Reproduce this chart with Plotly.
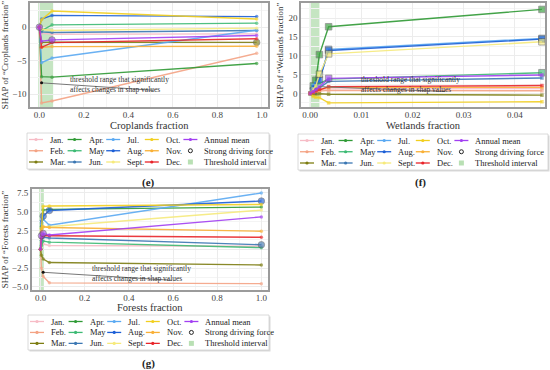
import plotly.graph_objects as go

W, H = 550, 370
FONT = "'Liberation Serif', 'Times New Roman', Times, serif"

months = ["Jan.", "Feb.", "Mar.", "Apr.", "May", "Jun.", "Jul.", "Aug.",
          "Sept.", "Oct.", "Nov.", "Dec.", "Annual mean"]
colors = ["#f7bcc6", "#f4a384", "#7d7d12", "#2f9a35", "#3dba74", "#3b77b3",
          "#5aa9f2", "#1c5fd6", "#f6ea7c", "#f2cf1e", "#f9b036", "#e8252a", "#a23ff2"]

# ---- (e) Croplands
crop_x = [0.0, 0.01, 0.057, 0.977]
crop_shap = [
    [0, -0.9, -1.05, -1.0],
    [0, -11.3, -11.0, -3.9],
    [0, -2.3, -2.25, -2.27],
    [0, -7.4, -7.45, -5.4],
    [0, -0.5, 0.34, 0.6],
    [0, -0.7, -0.8, -0.5],
    [0, -5.3, -4.6, -0.45],
    [0, 1.2, 1.75, 1.57],
    [0, -0.3, -0.5, -0.15],
    [0, 1.1, 2.4, 1.2],
    [0, -3.0, -2.9, -2.85],
    [0, -3.0, -2.3, -1.73],
    [0, -2.1, -1.9, -1.24],
]
crop_strong = {"Annual mean": [0, 2], "Mar.": [3]}
crop_band = [-0.005, 0.062]

# ---- (f) Wetlands
wet_x = [0.0, 0.0006, 0.0011, 0.0018, 0.0036, 0.0453]
wet_shap = [
    [0, 0.3, 0.5, 0.8, 1.2, 1.3],
    [0, 0.2, 0.4, 0.6, 0.8, 0.7],
    [0, -0.3, -0.2, -0.1, -0.2, -0.45],
    [0, 2.0, 3.5, 10.3, 17.7, 22.3],
    [0, 1.5, 2.2, 2.7, 3.8, 5.5],
    [0, 0.7, 1.0, 1.5, 3.2, 4.1],
    [0, 2.2, 2.8, 3.4, 11.7, 14.6],
    [0, 1.8, 2.5, 3.6, 11.4, 14.4],
    [0, 1.2, 2.0, 5.1, 10.5, 13.7],
    [0, -0.8, -1.0, -1.1, -2.5, -2.2],
    [0, 0.3, 0.6, 1.0, 1.6, 1.6],
    [0, 0.3, 0.7, 1.1, 1.8, 2.1],
    [0, 0.5, 1.0, 1.8, 4.0, 4.9],
]
wet_strong = {"Apr.": [1, 2, 3, 4, 5], "Aug.": [3, 4, 5], "Jul.": [4, 5],
              "Sept.": [3, 4, 5], "May": [5], "Annual mean": [4], "Jun.": [1]}
wet_band = [-0.0001, 0.0018]

# ---- (g) Forests
forest_x = [0.0, 0.004, 0.012, 0.04, 1.0]
forest_shap = [
    [0, 0.8, 0.7, 0.5, 0.4],
    [0, -2.5, -3.6, -4.45, -4.56],
    [0, -0.8, -1.3, -1.75, -2.08],
    [0, 3.0, 5.2, 5.3, 5.6],
    [0, 0.5, 1.1, 0.95, 0.22],
    [0, 1.2, 1.6, 1.5, 0.6],
    [0, 3.5, 4.0, 3.2, 7.47],
    [0, 3.8, 4.4, 5.15, 6.4],
    [0, 2.4, 3.0, 3.0, 5.2],
    [0, 2.8, 5.7, 5.75, 5.95],
    [0, 2.5, 3.0, 2.9, 2.4],
    [0, 1.5, 1.8, 1.8, 1.6],
    [0, 1.8, 2.1, 1.9, 4.3],
]
forest_strong = {"Aug.": [2, 3, 4], "Jun.": [4], "Annual mean": [1, 2]}
forest_band = [-0.006, 0.015]

note_text = "threshold range that significantly<br>affects changes in shap values"

panels = [
    dict(ax="", xs=crop_x, ys=crop_shap, strong=crop_strong, band=crop_band,
         sym="circle", xtitle="Croplands fraction",
         ytitle="SHAP of \u201cCroplands fraction\u201d",
         dom_x=[30, 268], dom_y=[3, 107], xr=[-0.042, 1.028], yr=[-11.9, 3.6],
         xdt=0.2, xfmt=".1f", ydt=5, yfmt="d", xtitle_y=125.5,
         note=dict(pt=(0.01, -8.3), end=(0.511, -9.4), tx=(0.13, -8.5), dot=True),
         label="(e)", label_px=(148, 182), leg_px=(27, 133, 269, 169)),
    dict(ax="2", xs=wet_x, ys=wet_shap, strong=wet_strong, band=wet_band,
         sym="square", xtitle="Wetlands fraction",
         ytitle="SHAP of \u201cWetlands fraction\u201d",
         dom_x=[301, 545], dom_y=[3, 107], xr=[-0.0018, 0.0459], yr=[-3.6, 24.0],
         xdt=0.01, xfmt=".2f", ydt=5, yfmt="d", xtitle_y=125.5,
         note=dict(pt=(0.0018, 1.8), end=(0.0264, 0.5), tx=(0.0095, 2.45), dot=False),
         label="(f)", label_px=(420, 182), leg_px=(298, 134, 548, 170)),
    dict(ax="3", xs=forest_x, ys=forest_shap, strong=forest_strong, band=forest_band,
         sym="circle", xtitle="Forests fraction",
         ytitle="SHAP of \u201cForests fraction\u201d",
         dom_x=[31.7, 268], dom_y=[189, 290], xr=[-0.04, 1.03], yr=[-5.4, 8.0],
         xdt=0.2, xfmt=".1f", ydt=2.5, yfmt=".1f", xtitle_y=307.5,
         note=dict(pt=(0.012, -3.05), end=(0.593, -4.11), tx=(0.226, -3.16), dot=True),
         label="(g)", label_px=(148, 363), leg_px=(28, 315, 269, 350)),
]

fig = go.Figure()
shapes = []
annotations = []
layout = dict(width=W, height=H, margin=dict(l=0, r=0, t=0, b=0),
              paper_bgcolor="white", plot_bgcolor="white", template="none",
              showlegend=False, font=dict(family=FONT, color="#333"))


def px_x(v):
    return v / W


def px_y(v):
    return 1 - v / H


for p in panels:
    xa, ya = "x" + p["ax"], "y" + p["ax"]
    for i, name in enumerate(months):
        st = p["strong"].get(name, [])
        n = len(p["xs"])
        sizes = [6.5 if j in st else 3.5 for j in range(n)]
        lw = [0.8 if j in st else 0 for j in range(n)]
        fig.add_trace(go.Scatter(
            x=p["xs"], y=p["ys"][i], mode="lines+markers", name=name,
            xaxis=xa, yaxis=ya, opacity=0.9,
            line=dict(color=colors[i], width=1.4),
            marker=dict(size=sizes, color=colors[i], symbol=p["sym"],
                        line=dict(width=lw, color="#555")),
            hoverinfo="skip"))
    axis_common = dict(showline=True, mirror=True, linecolor="#9b9b9b", linewidth=1.5,
                       showgrid=True, gridcolor="#ececec", gridwidth=0.8,
                       zeroline=False, ticks="", automargin=False,
                       tickfont=dict(family=FONT, size=9, color="#444"))
    layout["xaxis" + p["ax"]] = dict(
        axis_common, domain=[px_x(p["dom_x"][0]), px_x(p["dom_x"][1])],
        anchor=ya, range=p["xr"], dtick=p["xdt"], tick0=0, tickformat=p["xfmt"],
        ticklabelposition="outside", ticklabelstandoff=-2,
        minor=dict(showgrid=True, gridcolor="#f4f4f4", dtick=p["xdt"] / 2))
    layout["yaxis" + p["ax"]] = dict(
        axis_common, domain=[px_y(p["dom_y"][1]), px_y(p["dom_y"][0])],
        anchor=xa, range=p["yr"], dtick=p["ydt"], tick0=0, tickformat=p["yfmt"],
        minor=dict(showgrid=True, gridcolor="#f4f4f4", dtick=p["ydt"] / 2),
        title=dict(text=p["ytitle"], font=dict(family=FONT, size=8.9, color="#333"),
                   standoff=3))
    # x-axis title placed under the tick labels
    annotations.append(dict(xref="paper", yref="paper",
                            x=px_x((p["dom_x"][0] + p["dom_x"][1]) / 2), y=px_y(p["xtitle_y"]),
                            text=p["xtitle"], showarrow=False, xanchor="center", yanchor="middle",
                            font=dict(family=FONT, size=10.5, color="#333")))
    # threshold band
    shapes.append(dict(type="rect", xref=xa, yref=ya + " domain",
                       x0=p["band"][0], x1=p["band"][1], y0=0, y1=1,
                       fillcolor="#9fd39a", opacity=0.6, line=dict(width=0), layer="below"))
    # note with pointer line
    nt = p["note"]
    shapes.append(dict(type="line", xref=xa, yref=ya, x0=nt["pt"][0], y0=nt["pt"][1],
                       x1=nt["end"][0], y1=nt["end"][1], line=dict(color="#777", width=1)))
    if nt["dot"]:
        shapes.append(dict(type="circle", xref=xa, yref=ya, xsizemode="pixel", ysizemode="pixel",
                           xanchor=nt["pt"][0], yanchor=nt["pt"][1], x0=-1.5, x1=1.5, y0=-1.5, y1=1.5,
                           fillcolor="#111", line=dict(width=0)))
    annotations.append(dict(xref=xa, yref=ya, x=nt["tx"][0], y=nt["tx"][1], text=note_text,
                            showarrow=False, xanchor="left", yanchor="middle", align="left",
                            font=dict(family=FONT, size=7.5, color="#333")))
    # panel label
    annotations.append(dict(xref="paper", yref="paper", x=px_x(p["label_px"][0]),
                            y=px_y(p["label_px"][1]), text="<b>" + p["label"] + "</b>",
                            showarrow=False, xanchor="center", yanchor="middle",
                            font=dict(family=FONT, size=11, color="#222")))
    # legend box (manual, 5 columns x 3 rows)
    lx0, ly0, lx1, ly1 = p["leg_px"]
    shapes.append(dict(type="rect", xref="paper", yref="paper",
                       x0=px_x(lx0 + 1.5), x1=px_x(lx1 + 1.5), y0=px_y(ly1 + 1.5), y1=px_y(ly0 + 1.5),
                       fillcolor="#d9d9d9", line=dict(width=0)))
    shapes.append(dict(type="rect", xref="paper", yref="paper",
                       x0=px_x(lx0), x1=px_x(lx1), y0=px_y(ly1), y1=px_y(ly0),
                       fillcolor="white", line=dict(color="#d0d0d0", width=0.8)))
    entries = [(m, c) for m, c in zip(months, colors)] + [
        ("Strong driving force", None), ("Threshold interval", None)]
    col_w = 38.6
    row_h = (ly1 - ly0) / 3.2
    for k, (name, c) in enumerate(entries):
        col, row = k // 3, k % 3
        cx = lx0 + 2 + col * col_w
        cy = ly0 + 6.5 + row * row_h
        if c is not None:
            shapes.append(dict(type="line", xref="paper", yref="paper",
                               x0=px_x(cx), x1=px_x(cx + 14), y0=px_y(cy), y1=px_y(cy),
                               line=dict(color=c, width=1.3)))
            shapes.append(dict(type="circle", xref="paper", yref="paper",
                               xsizemode="pixel", ysizemode="pixel",
                               xanchor=px_x(cx + 7), yanchor=px_y(cy),
                               x0=-1.6, x1=1.6, y0=-1.6, y1=1.6,
                               fillcolor=c, line=dict(width=0)))
        elif name.startswith("Strong"):
            shapes.append(dict(type="circle", xref="paper", yref="paper",
                               xsizemode="pixel", ysizemode="pixel",
                               xanchor=px_x(cx + 7), yanchor=px_y(cy),
                               x0=-2, x1=2, y0=-2, y1=2,
                               fillcolor="white", line=dict(color="#222", width=1)))
        else:
            shapes.append(dict(type="rect", xref="paper", yref="paper",
                               xsizemode="pixel", ysizemode="pixel",
                               xanchor=px_x(cx + 7), yanchor=px_y(cy),
                               x0=-2.5, x1=2.5, y0=-2.5, y1=2.5,
                               fillcolor="#b9e0b4", line=dict(width=0)))
        annotations.append(dict(xref="paper", yref="paper", x=px_x(cx + 19), y=px_y(cy),
                                text=name, showarrow=False, xanchor="left", yanchor="middle",
                                font=dict(family=FONT, size=8.5, color="#222")))

layout["shapes"] = shapes
layout["annotations"] = annotations
fig.update_layout(**layout)
fig.write_html("out.html", config={"displayModeBar": False},
               post_script="document.body.style.margin='0';document.body.style.overflow='hidden';")
